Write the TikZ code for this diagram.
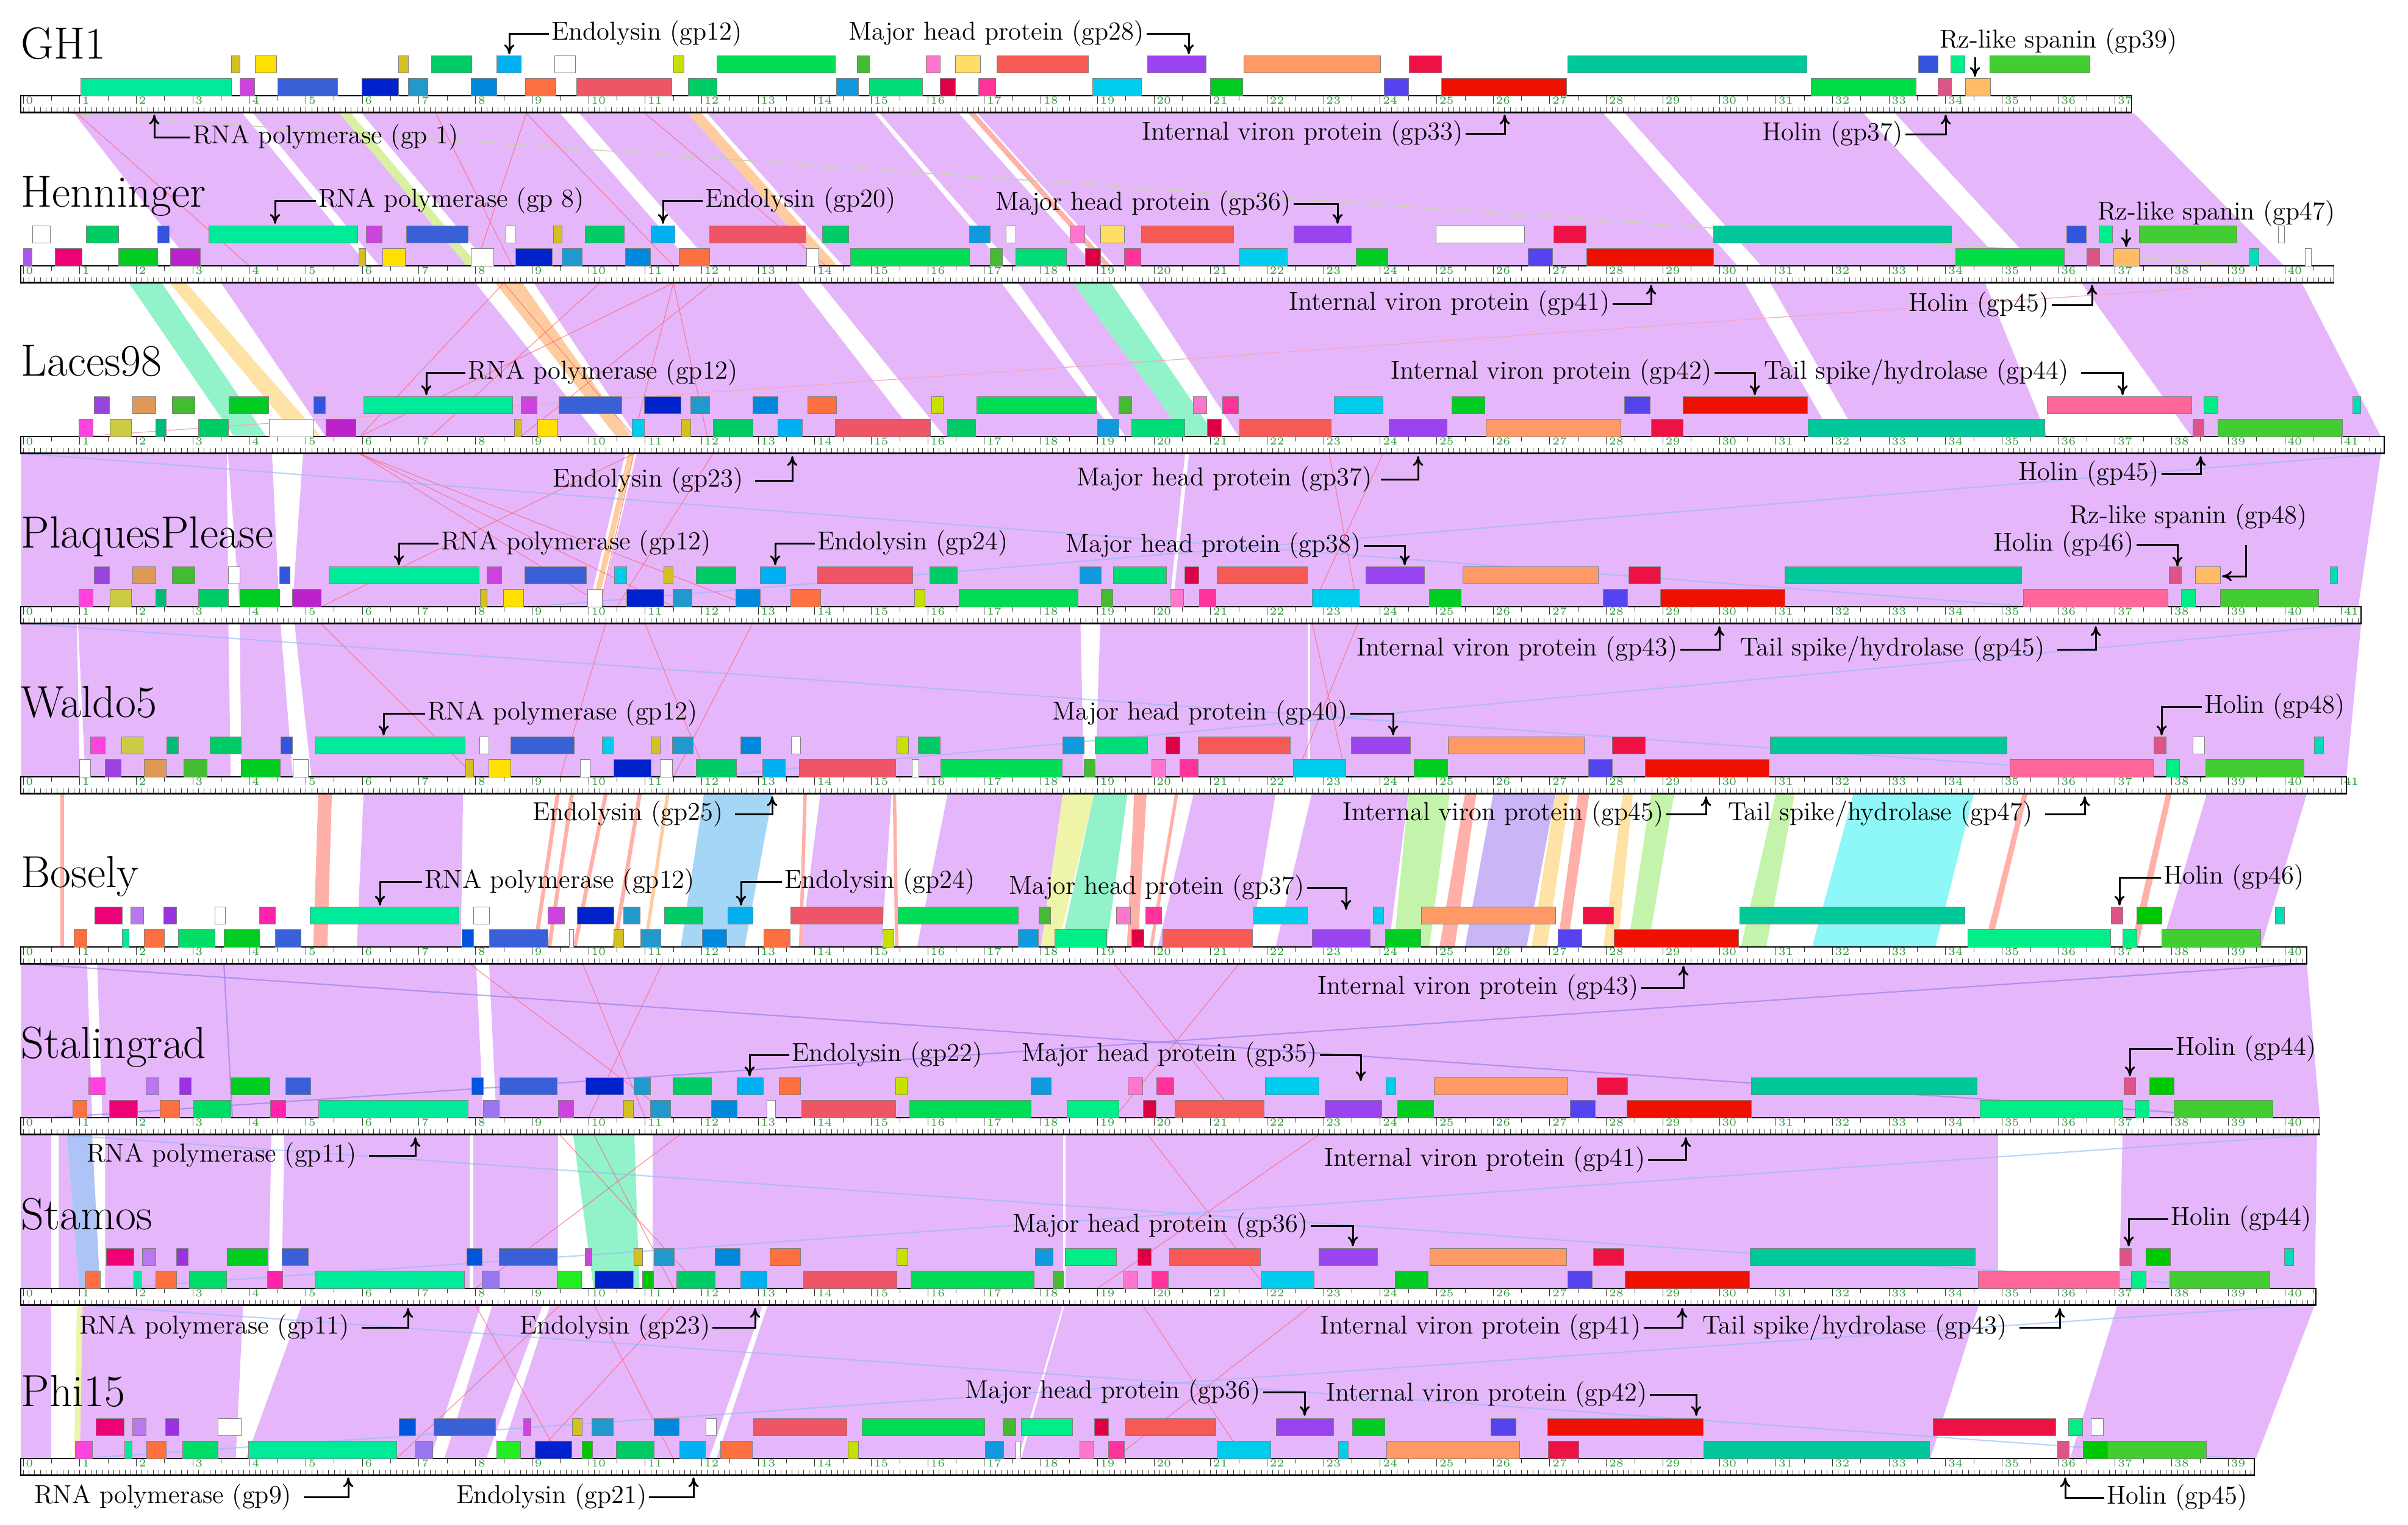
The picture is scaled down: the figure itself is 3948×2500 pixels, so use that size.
\documentclass[tikz,border=0pt]{standalone}
\usetikzlibrary{arrows.meta}
% band colours
\definecolor{purp}{HTML}{E5B7FA}
\definecolor{bLime}{HTML}{D8F0A0}
\definecolor{bOrange}{HTML}{FFCCA0}
\definecolor{bSalmon}{HTML}{FFB0A8}
\definecolor{bGray}{HTML}{C4D2AC}
\definecolor{bAqua}{HTML}{92F2CA}
\definecolor{bYellow}{HTML}{FFE2A6}
\definecolor{bPink}{HTML}{F4A8C0}
\definecolor{bLblue}{HTML}{A6D6F6}
\definecolor{bLyel}{HTML}{EEF4A8}
\definecolor{bLgreen}{HTML}{C4F4AC}
\definecolor{bLav}{HTML}{CAB6F6}
\definecolor{bCyan}{HTML}{8EF8F8}
\definecolor{bBlue}{HTML}{AEC4F6}
\definecolor{lnRed}{HTML}{FF6070}
\definecolor{lnBlue}{HTML}{90B8F8}
\definecolor{lnViolet}{HTML}{8C78E8}
\definecolor{rGreen}{HTML}{2E9A3A}
% gene colours
\definecolor{gRnap}{HTML}{00EB99}
\definecolor{gMgreen}{HTML}{00CC66}
\definecolor{gGreen2}{HTML}{00DD55}
\definecolor{gGreen3}{HTML}{00CC22}
\definecolor{gGreen4}{HTML}{00DD44}
\definecolor{gGreen5}{HTML}{00C800}
\definecolor{gLgreen}{HTML}{44CC33}
\definecolor{gSgreen}{HTML}{44BB33}
\definecolor{gAgreen}{HTML}{00EE88}
\definecolor{gAgreen2}{HTML}{00DD77}
\definecolor{gAgreen3}{HTML}{00DD66}
\definecolor{gBgreen}{HTML}{22EE22}
\definecolor{gTeal}{HTML}{00C89A}
\definecolor{gTeal2}{HTML}{00BB77}
\definecolor{gOlive}{HTML}{D4C020}
\definecolor{gOlivel}{HTML}{CCCC44}
\definecolor{gYellow}{HTML}{FFE000}
\definecolor{gLyellow}{HTML}{FFDD66}
\definecolor{gLime}{HTML}{C8E000}
\definecolor{gLblue}{HTML}{00B0F0}
\definecolor{gLblue2}{HTML}{1199DD}
\definecolor{gCerul}{HTML}{2299CC}
\definecolor{gBlue}{HTML}{0088DD}
\definecolor{gBlue2}{HTML}{3355DD}
\definecolor{gBlue3}{HTML}{0055DD}
\definecolor{gRoyal}{HTML}{3A60D8}
\definecolor{gDblue}{HTML}{0022CC}
\definecolor{gMagenta}{HTML}{CC44DD}
\definecolor{gPurpmag}{HTML}{BB22CC}
\definecolor{gPinkmag}{HTML}{FF44DD}
\definecolor{gPinkmag2}{HTML}{FF22AA}
\definecolor{gMagpink}{HTML}{EE0077}
\definecolor{gOrange}{HTML}{FF7040}
\definecolor{gSalmon}{HTML}{EE5566}
\definecolor{gSalred}{HTML}{F55A55}
\definecolor{gPink}{HTML}{FF77CC}
\definecolor{gHotpink}{HTML}{FF3399}
\definecolor{gCrimson}{HTML}{DD0044}
\definecolor{gCrimson2}{HTML}{EE1144}
\definecolor{gMhp}{HTML}{9944EE}
\definecolor{gLorange}{HTML}{FF9966}
\definecolor{gLorange2}{HTML}{FFBB66}
\definecolor{gRred}{HTML}{EE1100}
\definecolor{gCyan}{HTML}{00CCEE}
\definecolor{gCyans}{HTML}{00DDBB}
\definecolor{gBviolet}{HTML}{5544EE}
\definecolor{gPinkred}{HTML}{DD5588}
\definecolor{gTailpink}{HTML}{FF6699}
\definecolor{gTan}{HTML}{DD9955}
\definecolor{gViolet}{HTML}{AA55EE}
\definecolor{gViolet2}{HTML}{9944DD}
\definecolor{gLavender}{HTML}{BB77EE}
\definecolor{gPurple2}{HTML}{9933DD}
\definecolor{gLavpurple}{HTML}{9977EE}

\tikzset{
  gene/.style={draw=black!50, line width=0.2pt},
  lbl/.style={font=\fontsize{12.1}{14}\selectfont, inner sep=1pt},
  ttl/.style={font=\fontsize{21}{25}\selectfont, inner sep=0pt, anchor=base west},
  callout/.style={draw=black, line width=0.3mm, -{To[length=1.6mm,width=1.7mm]}},
  redln/.style={draw=lnRed, line width=0.12mm, opacity=0.7},
  bluln/.style={draw=lnBlue, line width=0.22mm, opacity=0.6},
  violn/.style={draw=lnViolet, line width=0.22mm, opacity=0.6},
  rnum/.style={font=\fontsize{5}{5}\selectfont, text=rGreen, anchor=north west, inner sep=0.3pt, xshift=0.25mm},
}

\newcommand\Bands[1]{\foreach \ua/\ub/\la/\lb/\co in {#1}{\fill[\co] (\ua,\Yt) -- (\ub,\Yt) -- (\lb,\Yb) -- (\la,\Yb) -- cycle;}}
\newcommand\Lines[2]{\foreach \ua/\la in {#2}{\draw[#1] (\ua,\Yt) -- (\la,\Yb);}}
\newcommand\GT[1]{\foreach \ga/\gb/\gc in {#1}{\draw[gene,fill=\gc] (\ga,\Y-66) rectangle (\gb,\Y-38);}}
\newcommand\GB[1]{\foreach \ga/\gb/\gc in {#1}{\draw[gene,fill=\gc] (\ga,\Y-29) rectangle (\gb,\Y);}}
\newcommand\Ruler[1]{%
  \pgfmathsetmacro\Nk{int(floor(#1))}%
  \pgfmathsetmacro\Nh{int(floor(#1-0.5))}%
  \pgfmathsetmacro\Nt{int(floor(#1*10))}%
  \fill[white] (-0.043,\Y) rectangle (#1,\Y+28);
  \draw[line width=0.15pt,black!75] foreach \i in {0,...,\Nt} {(\i/10,\Y+28) -- (\i/10,\Y+19)};
  \draw[line width=0.25pt,black!80] foreach \k in {0,...,\Nk} {(\k,\Y) -- (\k,\Y+13)};
  \draw[line width=0.2pt,black!80] foreach \k in {0,...,\Nh} {(\k+0.5,\Y) -- (\k+0.5,\Y+8)};
  \foreach \k in {0,...,\Nk} {\node[rnum] (rn\Y-\k) at (\k,\Y) {\k};}
  \draw[line width=0.4pt] (-0.043,\Y) rectangle (#1,\Y+28);
  \draw[line width=0.7pt] (-0.043,\Y+27.5) -- (#1,\Y+27.5);
}

\begin{document}
\begin{tikzpicture}[x=0.1mm,y=-0.1mm]
\useasboundingbox (0,0) rectangle (3948,2500);
\fill[white] (0,0) rectangle (3948,2500);

\begin{scope}[xshift=3.8mm, x=9.27mm]
% ---------------- gap 1: GH1 -> Henninger
\def\Yt{186}\def\Yb{436}
\Bands{0.9/3.88/3.0/6.1/purp, 4.07/5.6/6.3/7.85/purp, 5.99/9.5/8.25/11.85/purp, 9.84/11.76/12.2/14.15/purp,
 12.1/15.06/14.5/17.35/purp, 15.15/16.55/17.5/18.95/purp, 16.88/27.95/19.3/30.32/purp, 28.33/32.55/30.74/35.06/purp,
 33.11/37.34/35.6/39.99/purp, 5.6/5.8/7.85/8.05/bLime, 11.76/12.0/14.15/14.4/bOrange, 16.72/16.84/19.12/19.24/bSalmon,
 0.75/0.95/39.3/39.6/bGray}
\Lines{redln}{0.95/4.0, 7.3/8.65, 8.9/8.0, 8.9/11.5, 11.0/14.2}
% ---------------- gap 2: Henninger -> Laces98
\def\Yt{464}\def\Yb{716}
\Bands{1.87/2.45/3.73/4.3/bAqua, 2.59/2.88/4.84/5.27/bYellow,
 3.5/8.0/5.35/10.18/purp, 9.03/13.7/10.85/15.8/purp, 14.1/17.3/16.3/19.35/purp, 17.6/18.57/19.5/20.55/purp,
 19.72/30.45/21.5/32.0/purp, 30.9/34.7/32.45/35.8/purp, 36.4/40.3/38.35/41.7/purp,
 8.35/8.83/10.49/10.75/bOrange, 18.57/19.24/20.55/21.1/bAqua, 39.6/39.8/0.9/1.1/bPink}
\Lines{redln}{8.5/5.95, 8.5/10.8, 11.5/5.95, 11.5/10.8, 11.5/12.1, 10.2/7.2, 12.2/8.8}
% ---------------- gap 3: Laces98 -> PlaquesPlease
\def\Yt{744}\def\Yb{995}
\Bands{-0.04/3.6/-0.04/3.63/purp, 3.62/4.4/3.83/4.53/purp, 4.95/10.65/4.76/10.0/purp, 10.85/20.55/10.2/20.27/purp,
 20.62/41.7/20.33/41.3/purp, 10.7/10.8/10.05/10.15/bOrange}
\Lines{redln}{5.95/10.3, 5.95/11.5, 5.95/12.9, 10.8/5.27, 10.8/10.2, 12.2/10.5, 23.1/23.6, 24.05/22.8}
\Lines{bluln}{0.05/35.5, 41.7/9.0}
% ---------------- gap 4: PlaquesPlease -> Waldo5
\def\Yt{1023}\def\Yb{1274}
\Bands{-0.04/0.95/-0.04/1.0/purp, 0.97/3.63/1.1/3.67/purp, 3.83/4.55/3.86/4.77/purp, 4.8/18.7/5.1/18.76/purp,
 19.05/22.72/18.96/22.72/purp, 22.76/41.35/22.76/41.09/purp}
\Lines{redln}{10.3/9.5, 11.0/12.1, 5.27/8.0, 12.9/11.5, 22.8/23.4, 23.6/22.5}
\Lines{bluln}{0.1/38, 41.3/12}
% ---------------- gap 5: Waldo5 -> Bosely
\def\Yt{1302}\def\Yb{1553}
\Bands{6.02/7.78/5.9/7.74/purp, 14.1/15.36/13.75/15.18/purp, 16.35/18.39/15.81/18.0/purp, 20.7/22.15/20.07/21.7/purp,
 22.79/24.5/22.15/24.15/purp, 38.62/40.39/37.81/39.58/purp,
 0.66/0.72/0.66/0.72/bSalmon, 5.22/5.46/5.13/5.38/bSalmon, 12.04/13.26/11.63/12.76/bLblue, 13.8/13.86/13.72/13.78/bSalmon,
 15.38/15.44/15.42/15.48/bSalmon, 18.39/18.94/18.0/18.3/bLyel, 18.94/19.53/18.35/19.16/bAqua, 19.65/19.87/19.52/19.71/bSalmon,
 20.37/20.43/19.92/19.98/bSalmon,
 24.5/25.23/24.24/24.87/bLgreen, 25.5/25.7/25.05/25.32/bSalmon, 26.0/27.1/25.5/26.59/bLav, 27.1/27.35/26.68/26.95/bYellow,
 27.5/27.7/27.13/27.31/bSalmon, 28.29/28.47/27.95/28.2/bYellow, 28.79/29.2/28.38/28.74/bLgreen, 31.0/31.33/30.38/30.83/bLgreen,
 32.37/34.5/31.64/33.82/bCyan, 35.36/35.45/34.68/34.8/bSalmon, 37.9/38.0/37.27/37.4/bSalmon,
 9.42/9.49/9.02/9.09/bSalmon, 9.67/9.74/9.27/9.34/bSalmon, 10.27/10.34/9.72/9.79/bSalmon, 10.87/10.94/10.42/10.49/bSalmon,
 11.37/11.43/10.97/11.03/bOrange}
% ---------------- gap 6: Bosely -> Stalingrad
\def\Yt{1581}\def\Yb{1833}
\Bands{-0.04/1.13/-0.04/1.22/purp, 1.31/8.01/1.4/8.14/purp, 8.24/40.39/8.37/40.62/purp}
\Lines{redln}{7.9/11.5, 9.9/11.0, 11.3/10.0, 19.3/21.5, 21.5/19.3}
\Lines{violn}{3.55/3.7, 0.13/39.4, 40.3/0.5}
% ---------------- gap 7: Stalingrad -> Stamos
\def\Yt{1862}\def\Yb{2113}
\Bands{-0.04/0.5/-0.04/0.5/purp, 0.63/0.77/0.63/0.99/purp, 1.45/4.39/1.45/4.34/purp, 4.62/7.9/4.57/7.9/purp,
 7.96/9.46/7.96/9.46/purp, 11.13/18.39/11.13/18.39/purp, 18.44/34.93/18.44/34.93/purp, 37.13/40.57/37.07/40.53/purp,
 0.77/1.22/0.99/1.36/bBlue, 9.73/10.81/10.09/10.9/bAqua}
\Lines{redln}{10.1/11.5, 11.6/8.0, 9.5/12.0, 19.9/22.0, 22.9/19.0}
\Lines{bluln}{0.8/39.4, 40.4/1.5}
% ---------------- gap 8: Stamos -> Phi15
\def\Yt{2140}\def\Yb{2392}
\Bands{-0.04/0.5/-0.04/0.5/purp, 1.05/3.89/1.0/3.76/purp, 4.93/8.1/3.94/7.2/purp, 8.3/9.19/7.45/8.19/purp,
 9.32/13.08/8.42/12.13/purp, 13.17/18.39/12.26/17.6/purp, 18.42/34.59/17.65/33.73/purp, 37.04/40.53/36.2/39.49/purp,
 0.95/1.05/0.9/1.0/bLyel}
\Lines{redln}{8.0/9.5, 9.5/6.6, 10.1/11.5, 11.5/9.0, 19.8/21.6, 22.8/19.3}
\Lines{bluln}{1.0/39.2, 40.4/1.0}

% ================= tracks
% GH1
\def\Y{157}
\Ruler{37.29}
\GT{3.68/3.83/gOlive, 4.10/4.48/gYellow, 6.64/6.81/gOlive, 7.22/7.93/gMgreen, 8.38/8.81/gLblue, 9.40/9.77/white,
 11.5/11.69/gLime, 12.27/14.36/gGreen2, 14.75/14.97/gSgreen, 15.97/16.22/gPink, 16.49/16.93/gLyellow, 17.22/18.84/gSalred,
 19.88/20.92/gMhp, 21.59/24.01/gLorange, 24.51/25.08/gCrimson2, 27.32/31.55/gTeal, 33.52/33.87/gBlue2, 34.09/34.34/gAgreen,
 34.78/36.55/gLgreen}
\GB{1.02/3.68/gRnap, 3.83/4.09/gMagenta, 4.5/5.56/gRoyal, 5.99/6.64/gDblue, 6.81/7.16/gCerul, 7.92/8.37/gBlue,
 8.88/9.42/gOrange, 9.79/11.47/gSalmon, 11.76/12.27/gMgreen, 14.38/14.77/gLblue2, 14.97/15.9/gAgreen2, 16.22/16.49/gCrimson,
 16.9/17.2/gHotpink, 18.91/19.78/gCyan, 21.0/21.57/gGreen3, 24.07/24.5/gBviolet, 25.09/27.3/gRred, 31.62/33.48/gGreen4,
 33.87/34.1/gPinkred, 34.35/34.79/gLorange2}
% Henninger
\def\Y{436}
\Ruler{40.87}
\GT{0.17/0.48/white, 1.12/1.69/gMgreen, 2.38/2.58/gBlue2, 3.28/5.92/gRnap, 6.07/6.35/gMagenta, 6.78/7.87/gRoyal,
 8.54/8.70/white, 9.38/9.53/gOlive, 9.94/10.63/gMgreen, 11.1/11.52/gLblue, 12.14/13.83/gSalmon, 14.13/14.6/gMgreen,
 16.74/17.1/gLblue2, 17.38/17.56/white, 18.52/18.77/gPink, 19.05/19.48/gLyellow, 19.78/21.41/gSalred, 22.47/23.49/gMhp,
 24.99/26.55/white, 27.07/27.64/gCrimson2, 29.9/34.1/gTeal, 36.14/36.49/gBlue2, 36.72/36.95/gAgreen, 37.43/39.15/gLgreen,
 39.88/39.99/white}
\GB{0/0.15/gViolet, 0.56/1.04/gMagpink, 1.69/2.38/gGreen3, 2.6/3.13/gPurpmag, 5.94/6.06/gOlive, 6.36/6.76/gYellow,
 7.92/8.32/white, 8.71/9.36/gDblue, 9.53/9.88/gCerul, 10.65/11.09/gBlue, 11.6/12.14/gOrange, 13.86/14.07/white,
 14.63/16.74/gGreen2, 17.1/17.32/gSgreen, 17.56/18.45/gAgreen2, 18.78/19.05/gCrimson, 19.47/19.77/gHotpink,
 21.51/22.36/gCyan, 23.57/24.14/gGreen3, 26.62/27.05/gBviolet, 27.65/29.9/gRred, 34.18/36.1/gGreen4, 36.5/36.72/gPinkred,
 36.97/37.43/gLorange2, 39.38/39.54/gCyans, 40.36/40.47/white}
% Laces98
\def\Y{716}
\Ruler{41.76}
\GT{1.25/1.52/gViolet2, 1.93/2.34/gTan, 2.64/3.03/gSgreen, 3.64/4.34/gGreen3, 5.14/5.34/gBlue2, 6.02/8.65/gRnap,
 8.81/9.09/gMagenta, 9.48/10.59/gRoyal, 10.99/11.63/gDblue, 11.81/12.14/gCerul, 12.91/13.35/gBlue, 13.88/14.38/gOrange,
 16.07/16.27/gLime, 16.86/18.98/gGreen2, 19.38/19.6/gSgreen, 20.69/20.93/gPink, 21.21/21.49/gHotpink, 23.19/24.05/gCyan,
 25.27/25.85/gGreen3, 28.32/28.77/gBviolet, 29.36/31.56/gRred, 35.8/38.35/gTailpink, 38.57/38.82/gAgreen, 41.2/41.34/gCyans}
\GB{0.99/1.23/gPinkmag, 1.54/1.91/gOlivel, 2.34/2.53/gTeal2, 3.1/3.63/gMgreen, 4.35/5.13/white, 5.35/5.88/gPurpmag,
 8.69/8.81/gOlive, 9.1/9.45/gYellow, 10.77/10.99/gCyan, 11.64/11.81/gOlive, 12.2/12.91/gMgreen, 13.35/13.78/gLblue,
 14.36/16.05/gSalmon, 16.35/16.84/gMgreen, 19.0/19.38/gLblue2, 19.6/20.54/gAgreen2, 20.94/21.19/gCrimson,
 21.51/23.13/gSalred, 24.16/25.18/gMhp, 25.87/28.26/gLorange, 28.8/29.36/gCrimson2, 31.57/35.75/gTeal,
 38.37/38.57/gPinkred, 38.82/41.02/gLgreen}
% PlaquesPlease
\def\Y{995}
\Ruler{41.35}
\GT{1.25/1.52/gViolet2, 1.93/2.34/gTan, 2.64/3.03/gSgreen, 3.63/3.83/white, 4.53/4.72/gBlue2, 5.41/8.06/gRnap,
 8.2/8.46/gMagenta, 8.87/9.96/gRoyal, 10.46/10.67/gCyan, 11.33/11.49/gOlive, 11.9/12.6/gMgreen, 13.04/13.49/gLblue,
 14.05/15.73/gSalmon, 16.03/16.52/gMgreen, 18.69/19.07/gLblue2, 19.28/20.22/gAgreen2, 20.54/20.79/gCrimson,
 21.11/22.71/gSalred, 23.75/24.78/gMhp, 25.46/27.86/gLorange, 28.4/28.96/gCrimson2, 31.16/35.34/gTeal,
 37.95/38.17/gPinkred, 38.42/38.86/gLorange2, 40.8/40.93/gCyans}
\GB{0.99/1.23/gPinkmag, 1.54/1.91/gOlivel, 2.34/2.53/gTeal2, 3.1/3.63/gMgreen, 3.83/4.53/gGreen3, 4.76/5.27/gPurpmag,
 8.08/8.2/gOlive, 8.49/8.85/gYellow, 9.98/10.24/white, 10.67/11.33/gDblue, 11.49/11.83/gCerul, 12.6/13.04/gBlue,
 13.57/14.1/gOrange, 15.76/15.95/gLime, 16.55/18.66/gGreen2, 19.07/19.27/gSgreen, 20.29/20.52/gPink, 20.8/21.09/gHotpink,
 22.8/23.63/gCyan, 24.87/25.43/gGreen3, 27.94/28.37/gBviolet, 28.96/31.16/gRred, 35.38/37.93/gTailpink,
 38.17/38.42/gAgreen, 38.86/40.6/gLgreen}
% Waldo5
\def\Y{1274}
\Ruler{41.09}
\GT{1.19/1.45/gPinkmag, 1.74/2.12/gOlivel, 2.54/2.74/gTeal2, 3.31/3.86/gMgreen, 4.56/4.76/gBlue2, 5.16/7.81/gRnap,
 8.07/8.24/white, 8.62/9.74/gRoyal, 10.24/10.44/gCyan, 11.1/11.27/gOlive, 11.48/11.85/gCerul, 12.69/13.05/gBlue,
 13.58/13.75/white, 15.45/15.66/gLime, 15.83/16.22/gMgreen, 18.39/18.76/gLblue2, 18.96/19.89/gAgreen2,
 20.21/20.46/gCrimson, 20.78/22.41/gSalred, 23.49/24.53/gMhp, 25.2/27.61/gLorange, 28.11/28.69/gCrimson2,
 30.9/35.08/gTeal, 37.68/37.9/gPinkred, 38.38/38.58/white, 40.52/40.68/gCyans}
\GB{1.0/1.19/white, 1.45/1.73/gViolet2, 2.14/2.53/gTan, 2.84/3.25/gSgreen, 3.86/4.55/gGreen3, 4.77/5.04/white,
 7.83/7.96/gOlive, 8.24/8.62/gYellow, 9.85/10.02/white, 10.45/11.1/gDblue, 11.27/11.48/white, 11.9/12.61/gMgreen,
 13.08/13.48/gLblue, 13.73/15.43/gSalmon, 15.72/15.84/white, 16.23/18.38/gGreen2, 18.76/18.96/gSgreen,
 19.96/20.2/gPink, 20.46/20.78/gHotpink, 22.46/23.39/gCyan, 24.6/25.19/gGreen3, 27.68/28.1/gBviolet,
 28.69/30.88/gRred, 35.14/37.67/gTailpink, 37.9/38.14/gAgreen, 38.6/40.34/gLgreen}
% Bosely
\def\Y{1553}
\Ruler{40.39}
\GT{1.27/1.75/gMagpink, 1.9/2.13/gLavender, 2.49/2.71/gPurple2, 3.39/3.57/white, 4.18/4.46/gPinkmag2, 5.07/7.71/gRnap,
 7.96/8.25/white, 9.28/9.57/gMagenta, 9.8/10.45/gDblue, 10.62/10.91/gCerul, 11.34/12.02/gMgreen, 12.46/12.91/gLblue,
 13.57/15.2/gSalmon, 15.47/17.6/gGreen2, 17.96/18.17/gSgreen, 19.34/19.58/gPink, 19.85/20.13/gHotpink,
 21.76/22.71/gCyan, 23.88/24.06/gCyan, 24.73/27.1/gLorange, 27.59/28.13/gCrimson2, 30.36/34.34/gTeal,
 36.93/37.13/gPinkred, 37.38/37.83/gGreen5, 39.83/39.99/gCyans}
\GB{0.9/1.13/gOrange, 1.75/1.87/gRnap, 2.14/2.5/gOrange, 2.74/3.39/gAgreen3, 3.55/4.18/gGreen3, 4.46/4.91/gRoyal,
 7.76/7.96/gBlue3, 8.25/9.28/gRoyal, 9.66/9.73/white, 10.45/10.62/gOlive, 10.92/11.28/gCerul, 12.01/12.44/gBlue,
 13.1/13.56/gOrange, 15.2/15.4/gLime, 17.6/17.95/gLblue2, 18.24/19.16/gAgreen, 19.6/19.82/gCrimson,
 20.15/21.74/gSalred, 22.8/23.82/gMhp, 24.09/24.72/gGreen3, 27.14/27.57/gBviolet, 28.14/30.34/gRred,
 34.39/36.92/gAgreen, 37.13/37.38/gAgreen, 37.82/39.57/gLgreen}
% Stalingrad
\def\Y{1833}
\Ruler{40.62}
\GT{1.16/1.45/gPinkmag, 2.17/2.4/gLavender, 2.76/2.97/gPurple2, 3.67/4.36/gGreen3, 4.64/5.09/gRoyal, 7.93/8.14/gBlue3,
 8.43/9.44/gRoyal, 9.95/10.62/gDblue, 10.8/11.09/gCerul, 11.49/12.17/gMgreen, 12.63/13.09/gLblue, 13.37/13.75/gOrange,
 15.43/15.63/gLime, 17.82/18.18/gLblue2, 19.54/19.8/gPink, 20.05/20.35/gHotpink, 21.97/22.92/gCyan, 24.1/24.28/gCyan,
 24.96/27.32/gLorange, 27.84/28.38/gCrimson2, 30.57/34.56/gTeal, 37.16/37.36/gPinkred, 37.61/38.04/gGreen5}
\GB{0.88/1.13/gOrange, 1.52/2.02/gMagpink, 2.42/2.76/gOrange, 3.01/3.67/gAgreen3, 4.37/4.64/gPinkmag2, 5.23/7.87/gRnap,
 8.14/8.42/gLavpurple, 9.46/9.73/gMagenta, 10.62/10.79/gOlive, 11.09/11.45/gCerul, 12.17/12.62/gBlue, 13.15/13.3/white,
 13.77/15.43/gSalmon, 15.68/17.83/gGreen2, 18.46/19.38/gAgreen, 19.81/20.04/gCrimson, 20.37/21.95/gSalred,
 23.02/24.03/gMhp, 24.31/24.94/gGreen3, 27.36/27.8/gBviolet, 28.36/30.56/gRred, 34.61/37.13/gAgreen,
 37.36/37.6/gAgreen, 38.04/39.79/gLgreen}
% Stamos
\def\Y{2113}
\Ruler{40.55}
\GT{1.47/1.96/gMagpink, 2.11/2.34/gLavender, 2.71/2.92/gPurple2, 3.61/4.32/gGreen3, 4.58/5.04/gRoyal, 7.85/8.12/gBlue3,
 8.42/9.44/gRoyal, 9.94/10.06/gMagenta, 10.8/10.95/gOlive, 11.16/11.51/gCerul, 12.24/12.68/gBlue, 13.21/13.75/gOrange,
 15.45/15.65/gLime, 17.9/18.21/gLblue2, 18.43/19.33/gAgreen, 19.71/19.95/gCrimson, 20.27/21.88/gSalred,
 22.92/23.95/gMhp, 24.88/27.3/gLorange, 27.77/28.31/gCrimson2, 30.54/34.52/gTeal, 37.08/37.29/gPinkred,
 37.54/37.98/gGreen5, 39.99/40.16/gCyans}
\GB{1.1/1.36/gOrange, 1.96/2.09/gRnap, 2.35/2.71/gOrange, 2.94/3.6/gAgreen3, 4.32/4.59/gPinkmag2, 5.16/7.8/gRnap,
 8.12/8.42/gLavpurple, 9.44/9.87/gBgreen, 10.11/10.79/gDblue, 10.95/11.15/gGreen5, 11.56/12.24/gMgreen,
 12.69/13.15/gLblue, 13.8/15.45/gSalmon, 15.7/17.88/gGreen2, 18.21/18.41/gSgreen, 19.46/19.71/gPink,
 19.96/20.25/gHotpink, 21.9/22.83/gCyan, 24.26/24.85/gGreen3, 27.32/27.75/gBviolet, 28.33/30.53/gRred,
 34.58/37.07/gTailpink, 37.28/37.54/gAgreen, 37.97/39.73/gLgreen}
% Phi15
\def\Y{2392}
\Ruler{39.46}
\GT{1.29/1.78/gMagpink, 1.93/2.17/gLavender, 2.52/2.75/gPurple2, 3.44/3.85/white, 6.65/6.94/gBlue3, 7.26/8.35/gRoyal,
 8.85/8.98/gMagenta, 9.71/9.88/gOlive, 10.06/10.43/gCerul, 11.16/11.6/gBlue, 12.08/12.26/white, 12.92/14.57/gSalmon,
 14.84/17.0/gGreen2, 17.33/17.55/gSgreen, 17.65/18.56/gAgreen, 18.95/19.19/gCrimson, 19.5/21.09/gSalred,
 22.16/23.18/gMhp, 23.51/24.08/gGreen3, 25.96/26.4/gBviolet, 26.96/29.71/gRred, 33.78/35.95/gCrimson2,
 36.17/36.42/gAgreen, 36.57/36.79/white}
\GB{0.92/1.22/gPinkmag, 1.79/1.92/gRnap, 2.18/2.53/gOrange, 2.82/3.44/gAgreen3, 3.98/6.61/gRnap, 6.94/7.24/gLavpurple,
 8.37/8.8/gBgreen, 9.05/9.7/gDblue, 9.88/10.07/gGreen5, 10.49/11.16/gMgreen, 11.61/12.06/gLblue, 12.33/12.9/gOrange,
 14.59/14.77/gLime, 17.02/17.34/gLblue2, 17.55/17.64/white, 18.69/18.94/gPink, 19.2/19.48/gHotpink,
 21.13/22.06/gCyan, 23.26/23.43/gCyan, 24.11/26.47/gLorange, 26.97/27.51/gCrimson2, 29.72/33.71/gTeal,
 35.98/36.18/gPinkred, 36.43/36.86/gGreen5, 36.86/38.61/gLgreen}
\end{scope}

% ================= titles
\node[ttl] (tGH1) at (34,96) {GH1};
\node[ttl] (tHen) at (34,339) {Henninger};
\node[ttl] (tLac) at (34,616) {Laces98};
\node[ttl] (tPla) at (34,898) {PlaquesPlease};
\node[ttl] (tWal) at (34,1176) {Waldo5};
\node[ttl] (tBos) at (34,1455) {Bosely};
\node[ttl] (tSta) at (34,1735) {Stalingrad};
\node[ttl] (tStm) at (34,2016) {Stamos};
\node[ttl] (tPhi) at (34,2306) {Phi15};

% ================= labels: GH1
\node[lbl,anchor=west] (a1) at (900,55) {Endolysin (gp12)};
\coordinate (a1t) at (835,89); \draw[callout] (a1.west) -| (a1t);
\node[lbl,anchor=east] (a2) at (1880,55) {Major head protein (gp28)};
\coordinate (a2t) at (1949,89); \draw[callout] (a2.east) -| (a2t);
\node[lbl] (a3) at (3375,68) {Rz-like spanin (gp39)};
\coordinate (a3t) at (3238,126); \draw[callout] (a3.south -| a3t) -- (a3t);
\node[lbl,anchor=west] (a4) at (312,225) {RNA polymerase (gp 1)};
\coordinate (a4t) at (253,188); \draw[callout] (a4.west) -| (a4t);
\node[lbl,anchor=east] (a5) at (2403,219) {Internal viron protein (gp33)};
\coordinate (a5t) at (2467,188); \draw[callout] (a5.east) -| (a5t);
\node[lbl,anchor=east] (a6) at (3124,220) {Holin (gp37)};
\coordinate (a6t) at (3190,188); \draw[callout] (a6.east) -| (a6t);
% Henninger
\node[lbl,anchor=west] (b1) at (518,329) {RNA polymerase (gp 8)};
\coordinate (b1t) at (451,367); \draw[callout] (b1.west) -| (b1t);
\node[lbl,anchor=west] (b2) at (1152,329) {Endolysin (gp20)};
\coordinate (b2t) at (1087,367); \draw[callout] (b2.west) -| (b2t);
\node[lbl,anchor=east] (b3) at (2121,334) {Major head protein (gp36)};
\coordinate (b3t) at (2193,367); \draw[callout] (b3.east) -| (b3t);
\node[lbl] (b4) at (3634,350) {Rz-like spanin (gp47)};
\coordinate (b4t) at (3486,405); \draw[callout] (b4.south -| b4t) -- (b4t);
\node[lbl,anchor=east] (b5) at (2644,498) {Internal viron protein (gp41)};
\coordinate (b5t) at (2707,467); \draw[callout] (b5.east) -| (b5t);
\node[lbl,anchor=east] (b6) at (3364,500) {Holin (gp45)};
\coordinate (b6t) at (3430,467); \draw[callout] (b6.east) -| (b6t);
% Laces98
\node[lbl,anchor=west] (c1) at (763,611) {RNA polymerase (gp12)};
\coordinate (c1t) at (699,648); \draw[callout] (c1.west) -| (c1t);
\node[lbl,anchor=east] (c2) at (2811,611) {Internal viron protein (gp42)};
\coordinate (c2t) at (2877,648); \draw[callout] (c2.east) -| (c2t);
\node[lbl,anchor=west] (c3) at (2888,611) {Tail spike/hydrolase (gp44)};
\coordinate (c3t) at (3480,648); \draw[callout] ([xshift=1.6mm]c3.east) -| (c3t);
\node[lbl,anchor=west] (c4) at (902,788) {Endolysin (gp23)};
\coordinate (c4t) at (1299,748); \draw[callout] ([xshift=1.6mm]c4.east) -| (c4t);
\node[lbl,anchor=east] (c5) at (2254,786) {Major head protein (gp37)};
\coordinate (c5t) at (2325,748); \draw[callout] ([xshift=1mm]c5.east) -| (c5t);
\node[lbl,anchor=east] (c6) at (3544,777) {Holin (gp45)};
\coordinate (c6t) at (3608,748); \draw[callout] (c6.east) -| (c6t);
% PlaquesPlease
\node[lbl,anchor=west] (d1) at (719,891) {RNA polymerase (gp12)};
\coordinate (d1t) at (654,927); \draw[callout] (d1.west) -| (d1t);
\node[lbl,anchor=west] (d2) at (1336,891) {Endolysin (gp24)};
\coordinate (d2t) at (1271,927); \draw[callout] (d2.west) -| (d2t);
\node[lbl,anchor=east] (d3) at (2236,895) {Major head protein (gp38)};
\coordinate (d3t) at (2303,927); \draw[callout] (d3.east) -| (d3t);
\node[lbl] (d4) at (3588,848) {Rz-like spanin (gp48)};
\coordinate (d4k) at (3682,945); \coordinate (d4t) at (3643,945);
\draw[callout] ([yshift=-2mm]d4.south -| d4k) -- (d4k) -- (d4t);
\node[lbl,anchor=east] (d5) at (3503,893) {Holin (gp46)};
\coordinate (d5t) at (3570,929); \draw[callout] (d5.east) -| (d5t);
\node[lbl,anchor=east] (d6) at (2755,1065) {Internal viron protein (gp43)};
\coordinate (d6t) at (2819,1027); \draw[callout] (d6.east) -| (d6t);
\node[lbl,anchor=west] (d7) at (2849,1065) {Tail spike/hydrolase (gp45)};
\coordinate (d7t) at (3436,1027); \draw[callout] ([xshift=1.6mm]d7.east) -| (d7t);
% Waldo5
\node[lbl,anchor=west] (e1) at (697,1170) {RNA polymerase (gp12)};
\coordinate (e1t) at (629,1206); \draw[callout] (e1.west) -| (e1t);
\node[lbl,anchor=east] (e2) at (2214,1170) {Major head protein (gp40)};
\coordinate (e2t) at (2284,1206); \draw[callout] (e2.east) -| (e2t);
\node[lbl,anchor=west] (e3) at (3610,1159) {Holin (gp48)};
\coordinate (e3t) at (3544,1206); \draw[callout] (e3.west) -| (e3t);
\node[lbl,anchor=west] (e4) at (869,1335) {Endolysin (gp25)};
\coordinate (e4t) at (1266,1306); \draw[callout] ([xshift=1.6mm]e4.east) -| (e4t);
\node[lbl,anchor=east] (e5) at (2732,1335) {Internal viron protein (gp45)};
\coordinate (e5t) at (2797,1306); \draw[callout] (e5.east) -| (e5t);
\node[lbl,anchor=west] (e6) at (2829,1335) {Tail spike/hydrolase (gp47)};
\coordinate (e6t) at (3418,1306); \draw[callout] ([xshift=1.6mm]e6.east) -| (e6t);
% Bosely
\node[lbl,anchor=west] (f1) at (692,1446) {RNA polymerase (gp12)};
\coordinate (f1t) at (623,1485); \draw[callout] (f1.west) -| (f1t);
\node[lbl,anchor=west] (f2) at (1282,1446) {Endolysin (gp24)};
\coordinate (f2t) at (1215,1485); \draw[callout] (f2.west) -| (f2t);
\node[lbl,anchor=east] (f3) at (2143,1456) {Major head protein (gp37)};
\coordinate (f3t) at (2207,1492); \draw[callout] (f3.east) -| (f3t);
\node[lbl,anchor=west] (f4) at (3543,1439) {Holin (gp46)};
\coordinate (f4t) at (3475,1485); \draw[callout] (f4.west) -| (f4t);
\node[lbl,anchor=east] (f5) at (2691,1620) {Internal viron protein (gp43)};
\coordinate (f5t) at (2760,1584); \draw[callout] (f5.east) -| (f5t);
% Stalingrad
\node[lbl,anchor=west] (g1) at (1294,1730) {Endolysin (gp22)};
\coordinate (g1t) at (1229,1765); \draw[callout] (g1.west) -| (g1t);
\node[lbl,anchor=east] (g2) at (2164,1730) {Major head protein (gp35)};
\coordinate (g2t) at (2231,1773); \draw[callout] (g2.east) -| (g2t);
\node[lbl,anchor=west] (g3) at (3563,1720) {Holin (gp44)};
\coordinate (g3t) at (3492,1765); \draw[callout] (g3.west) -| (g3t);
\node[lbl,anchor=west] (g4) at (138,1895) {RNA polymerase (gp11)};
\coordinate (g4t) at (681,1865); \draw[callout] ([xshift=1.6mm]g4.east) -| (g4t);
\node[lbl,anchor=east] (g5) at (2702,1902) {Internal viron protein (gp41)};
\coordinate (g5t) at (2764,1865); \draw[callout] (g5.east) -| (g5t);
% Stamos
\node[lbl,anchor=east] (h1) at (2149,2010) {Major head protein (gp36)};
\coordinate (h1t) at (2218,2044); \draw[callout] (h1.east) -| (h1t);
\node[lbl,anchor=west] (h2) at (3555,1999) {Holin (gp44)};
\coordinate (h2t) at (3490,2044); \draw[callout] (h2.west) -| (h2t);
\node[lbl,anchor=west] (h3) at (126,2177) {RNA polymerase (gp11)};
\coordinate (h3t) at (669,2145); \draw[callout] ([xshift=1.6mm]h3.east) -| (h3t);
\node[lbl,anchor=west] (h4) at (848,2177) {Endolysin (gp23)};
\coordinate (h4t) at (1238,2145); \draw[callout] (h4.east) -| (h4t);
\node[lbl,anchor=east] (h5) at (2695,2177) {Internal viron protein (gp41)};
\coordinate (h5t) at (2758,2145); \draw[callout] (h5.east) -| (h5t);
\node[lbl,anchor=west] (h6) at (2787,2177) {Tail spike/hydrolase (gp43)};
\coordinate (h6t) at (3377,2145); \draw[callout] ([xshift=1.6mm]h6.east) -| (h6t);
% Phi15
\node[lbl,anchor=east] (k1) at (2071,2283) {Major head protein (gp36)};
\coordinate (k1t) at (2139,2322); \draw[callout] (k1.east) -| (k1t);
\node[lbl,anchor=west] (k2) at (2170,2287) {Internal viron protein (gp42)};
\coordinate (k2t) at (2781,2322); \draw[callout] (k2.east) -| (k2t);
\node[lbl,anchor=west] (k3) at (52,2455) {RNA polymerase (gp9)};
\coordinate (k3t) at (571,2423); \draw[callout] ([xshift=1.6mm]k3.east) -| (k3t);
\node[lbl,anchor=west] (k4) at (744,2455) {Endolysin (gp21)};
\coordinate (k4t) at (1137,2423); \draw[callout] (k4.east) -| (k4t);
\node[lbl,anchor=west] (k5) at (3450,2456) {Holin (gp45)};
\coordinate (k5t) at (3386,2423); \draw[callout] (k5.west) -| (k5t);
\end{tikzpicture}
\end{document}
